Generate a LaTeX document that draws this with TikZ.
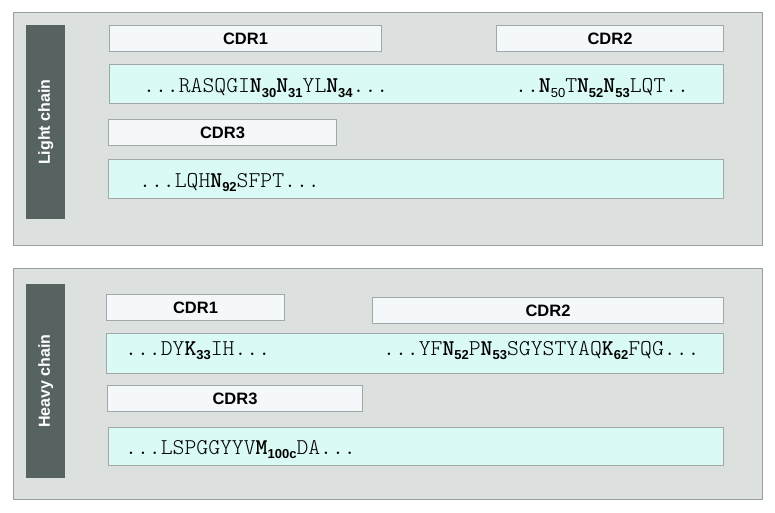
\documentclass[tikz,border=0pt]{standalone}
\usepackage{fontspec}
\setmainfont{Liberation Sans}
\newfontfamily\sansf{Liberation Sans}
\definecolor{panelbg}{HTML}{DCE1E0}
\definecolor{panelline}{HTML}{9A9F9E}
\definecolor{barfill}{HTML}{566361}
\definecolor{cdrfill}{HTML}{F4F8FB}
\definecolor{seqfill}{HTML}{D9FAF5}
\definecolor{boxline}{HTML}{A2A8A7}
\newcommand\monof{\ttfamily\fontseries{l}\selectfont}
\newcommand\resN[2]{{\fontseries{b}\selectfont #1}\raisebox{-4.5pt}{\fontsize{13}{13}\sansf\bfseries #2}}
\newcommand\resNr[2]{{\fontseries{b}\selectfont #1}\raisebox{-4.5pt}{\fontsize{13}{13}\sansf #2}}
\tikzset{
  panel/.style={draw=panelline, fill=panelbg, line width=1pt, anchor=north west, inner sep=0pt},
  chainbar/.style={fill=barfill, draw=none, anchor=north west, inner sep=0pt, minimum width=39pt},
  cdrbox/.style={draw=boxline, fill=cdrfill, line width=1pt, anchor=north west, inner sep=0pt,
     minimum height=26pt, font=\fontsize{16.5}{18}\sansf\bfseries},
  seqbox/.style={draw=boxline, fill=seqfill, line width=1pt, anchor=north west, inner sep=0pt},
  seqtext/.style={anchor=base west, inner sep=0pt, font=\fontsize{22.6}{24}\monof},
  bartext/.style={rotate=90, text=white, font=\fontsize{16}{18}\sansf\bfseries, inner sep=0pt}
}
\begin{document}
\begin{tikzpicture}[x=1pt,y=-1pt]
\useasboundingbox (0,0) rectangle (775,513);
\fill[white] (0,0) rectangle (775,513);
% ---------- Light chain ----------
\node[panel, minimum width=749pt, minimum height=233pt] (lpanel) at (13,12) {};
\node[chainbar, minimum height=194pt] (lbar) at (26,25) {};
\node[bartext] (llabel) at (lbar.center) {Light chain};
\node[cdrbox, minimum width=272pt] (lcdr1) at (109,25) {CDR1};
\node[cdrbox, minimum width=227pt] (lcdr2) at (496,25) {CDR2};
\node[seqbox, minimum width=614pt, minimum height=39pt] (lseq1) at (109,64) {};
\node[seqtext] (lseq1a) at (143,93) {...RASQGI\resN{N}{30}\resN{N}{31}YL\resN{N}{34}...};
\node[seqtext] (lseq1b) at (515,93) {..\resNr{N}{50}T\resN{N}{52}\resN{N}{53}LQT..};
\node[cdrbox, minimum width=228pt] (lcdr3) at (108,119) {CDR3};
\node[seqbox, minimum width=615pt, minimum height=39pt] (lseq2) at (108,159) {};
\node[seqtext] (lseq2a) at (139,187) {...LQH\resN{N}{92}SFPT...};
% ---------- Heavy chain ----------
\node[panel, minimum width=749pt, minimum height=231pt] (hpanel) at (13,268) {};
\node[chainbar, minimum height=194pt] (hbar) at (26,284) {};
\node[bartext] (hlabel) at (hbar.center) {Heavy chain};
\node[cdrbox, minimum width=178pt] (hcdr1) at (106,294) {CDR1};
\node[cdrbox, minimum width=351pt] (hcdr2) at (372,297) {CDR2};
\node[seqbox, minimum width=617pt, minimum height=40pt] (hseq1) at (106,333) {};
\node[seqtext] (hseq1a) at (125,355) {...DY\resN{K}{33}IH...};
\node[seqtext] (hseq1b) at (383,355) {...YF\resN{N}{52}P\resN{N}{53}SGYSTYAQ\resN{K}{62}FQG...};
\node[cdrbox, minimum width=255pt] (hcdr3) at (107,385) {CDR3};
\node[seqbox, minimum width=615pt, minimum height=38pt] (hseq2) at (108,427) {};
\node[seqtext] (hseq2a) at (125,454) {...LSPGGYYV\resN{M}{100c}DA...};
\end{tikzpicture}
\end{document}
